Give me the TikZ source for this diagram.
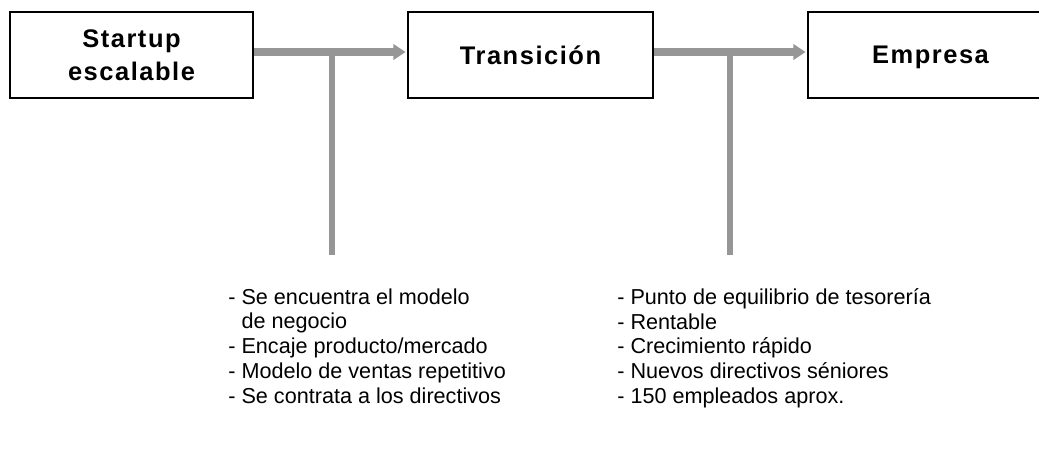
\documentclass[tikz,border=0pt]{standalone}
\usepackage{fontspec}
\setmainfont{Liberation Sans}
\newfontfamily\titulofont[LetterSpace=6]{Liberation Sans}
\usepackage{xcolor}
\usepackage{tikz}
\usetikzlibrary{arrows.meta,positioning}
\definecolor{grisflecha}{RGB}{150,150,150}

\begin{document}
\begin{tikzpicture}[x=0.02cm,y=-0.02cm,
    etapa/.style={draw,line width=0.8pt,minimum width=4.9cm,minimum height=1.72cm,inner sep=0pt,font=\titulofont\bfseries\fontsize{14.5}{18.8}\selectfont,align=center},
    flecha/.style={draw=grisflecha,line width=4.2pt,-{Triangle[length=7pt,width=8.8pt]}},
    tallo/.style={draw=grisflecha,line width=3.2pt},
    lista/.style={anchor=north west,align=left,inner sep=0pt,font=\fontsize{12.3}{14.1}\selectfont}]
    \clip (0,0) rectangle (1039,458);
    % Draw stage boxes
    \node[etapa,minimum width=4.86cm] (startup) at (131.5,55) {Startup\\escalable};
    \node[etapa] (transicion) at (530.5,55) {Transición};
    \node[etapa,text depth=0pt] (empresa) at (930.5,55) {Empresa}; % cut off at the right

    % Draw arrows between stages
    \draw[flecha] ([yshift=1.7pt]startup.east) -- ([yshift=1.7pt,xshift=-1pt]transicion.west);
    \draw[flecha] ([yshift=1.7pt]transicion.east) -- ([yshift=1.7pt,xshift=-1pt]empresa.west);

    % Draw stems down to the lists
    \coordinate (pie1) at (332,255);
    \coordinate (pie2) at (730,255);
    \draw[tallo] (pie1) -- ([yshift=1.7pt]pie1 |- startup.east);
    \draw[tallo] (pie2) -- ([yshift=1.7pt]pie2 |- transicion.east);

    % Label lists
    \node[lista] (lista1) at (228,288) {- Se encuentra el modelo\\\phantom{- }de negocio\\- Encaje producto/mercado\\- Modelo de ventas repetitivo\\- Se contrata a los directivos};
    \node[lista] (lista2) at (617,288) {- Punto de equilibrio de tesorería\\- Rentable\\- Crecimiento rápido\\- Nuevos directivos séniores\\- 150 empleados aprox.};
\end{tikzpicture}
\end{document}
